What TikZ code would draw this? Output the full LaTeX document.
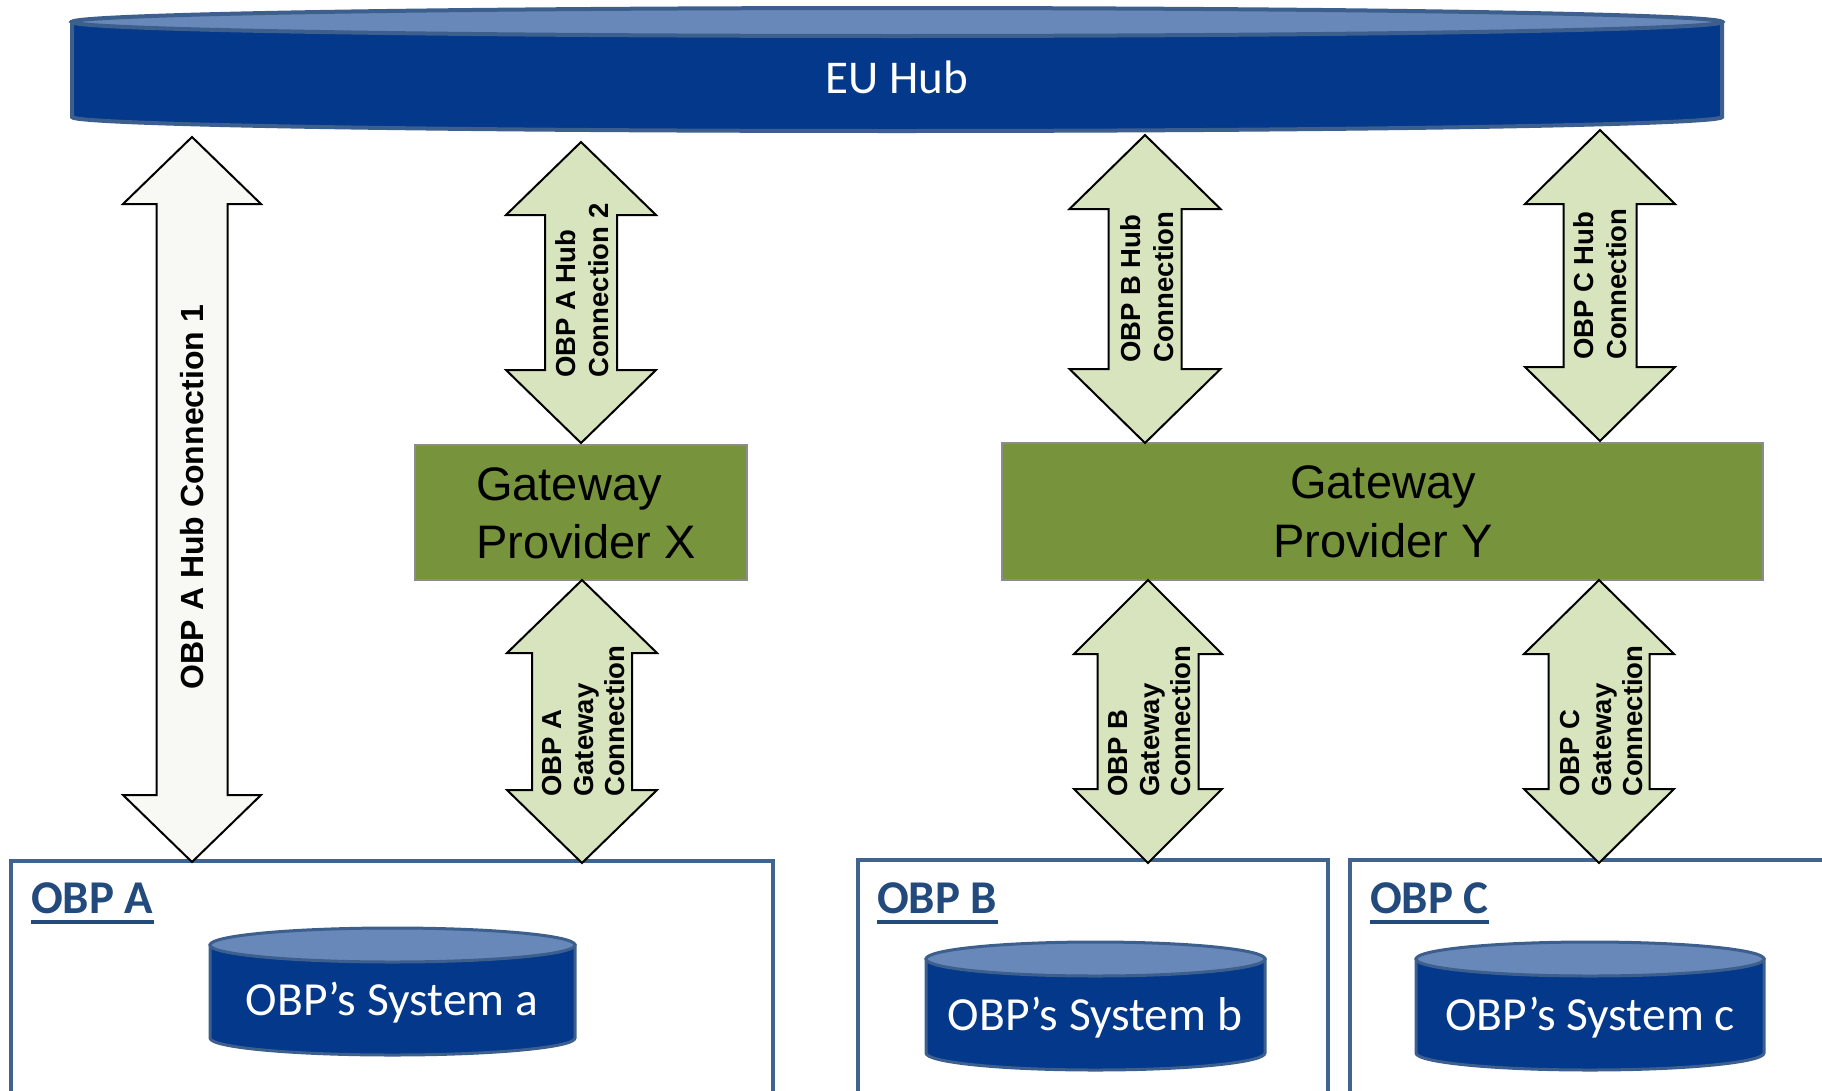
\documentclass[tikz,border=0pt]{standalone}
\usepackage{fontspec}
\newfontfamily\carlito{Carlito}
\newfontfamily\arialf{Liberation Sans}
\definecolor{hubdark}{HTML}{03388A}
\definecolor{hubtop}{HTML}{6788B8}
\definecolor{hubline}{HTML}{3C5F8D}
\definecolor{boxline}{HTML}{41648F}
\definecolor{lblblue}{HTML}{234A7C}
\definecolor{arrgreen}{HTML}{D7E4BD}
\definecolor{arrwhite}{HTML}{F8F8F4}
\definecolor{gwgreen}{HTML}{77933C}
\definecolor{gwline}{HTML}{8C8C8C}
% fat double arrow: style, name, cx, top, bottom, shaft half width, head half width, head length
\newcommand{\fatarrow}[8]{%
  \draw[#1] (#3,#4) -- (#3+#7,#4+#8) -- (#3+#6,#4+#8) -- (#3+#6,#5-#8) -- (#3+#7,#5-#8)
    -- (#3,#5) -- (#3-#7,#5-#8) -- (#3-#6,#5-#8) -- (#3-#6,#4+#8) -- (#3-#7,#4+#8) -- cycle;
  \coordinate (#2-top) at (#3,#4);
  \coordinate (#2-bot) at (#3,#5);
}
% cylinder: left, right, top ellipse centre y, bottom side y, y radius, line width
\newcommand{\cylshape}[6]{%
  \pgfmathsetmacro\cylcx{(#1+#2)/2}%
  \pgfmathsetmacro\cylrx{(#2-#1)/2}%
  \filldraw[fill=hubdark, draw=hubline, line width=#6] (#1,#3) -- (#1,#4)
    .. controls (#1,#4+0.5523*#5) and (\cylcx-0.5523*\cylrx,#4+#5) .. (\cylcx,#4+#5)
    .. controls (\cylcx+0.5523*\cylrx,#4+#5) and (#2,#4+0.5523*#5) .. (#2,#4)
    -- (#2,#3) -- cycle;
  \filldraw[fill=hubtop, draw=hubline, line width=#6] (\cylcx,#3) ellipse [x radius=\cylrx pt, y radius=#5 pt];
}
\tikzset{
  greenarrow/.style={fill=arrgreen, draw=black, line width=2pt, line join=miter},
  whitearrow/.style={fill=arrwhite, draw=black, line width=2pt, line join=miter},
  arrtxt/.style={rotate=90, inner sep=0pt, anchor=west, align=left,
    font=\arialf\bfseries\fontsize{27.5}{33}\selectfont},
  arrtxtg/.style={arrtxt, font=\arialf\bfseries\fontsize{27.5}{31.5}\selectfont},
  gwbox/.style={fill=gwgreen, draw=gwline, line width=1.5pt},
  gwtxt/.style={inner sep=0pt, font=\arialf\fontsize{47}{55}\selectfont},
  obpbox/.style={draw=boxline, line width=3.5pt},
  obplbl/.style={inner sep=0pt, anchor=base west, text=lblblue, font=\carlito\bfseries\fontsize{47}{56}\selectfont},
  systxt/.style={inner sep=0pt, anchor=base, text=white, font=\carlito\fontsize{47.5}{56}\selectfont},
}
\begin{document}
\begin{tikzpicture}[x=1pt, y=-1pt]
\useasboundingbox (0,0) rectangle (1822,1090);
\clip (0,0) rectangle (1822,1090);

% EU Hub
\cylshape{72}{1722}{22}{117}{14}{4pt}
\node[text=white, font=\carlito\fontsize{47}{56}\selectfont] (hub) at (897,77) {EU Hub};

% OBP boxes
\draw[obpbox] (11,1110) -- (11,861) -- (773,861) -- (773,1110);
\draw[obpbox] (858,1110) -- (858,860) -- (1328,860) -- (1328,1110);
\draw[obpbox] (1350,1110) -- (1350,860) -- (1840,860);

\node[obplbl] (obpa) at (31,913) {OBP A};
\draw[lblblue, line width=3.5pt] ([yshift=-9pt]obpa.base west) -- ([yshift=-9pt]obpa.base east);
\node[obplbl] (obpb) at (877,913) {OBP B};
\draw[lblblue, line width=3.5pt] ([yshift=-9pt]obpb.base west) -- ([yshift=-9pt]obpb.base east);
\node[obplbl] (obpc) at (1370,913) {OBP C};
\draw[lblblue, line width=3.5pt] ([yshift=-9pt]obpc.base west) -- ([yshift=-9pt]obpc.base east);

% systems
\cylshape{210}{575}{945}{1038}{17}{3pt}
\node[systxt] (sysa) at (392,1015) {OBP’s System a};
\cylshape{926}{1265}{959}{1053}{17}{3pt}
\node[systxt] (sysb) at (1095,1030) {OBP’s System b};
\cylshape{1416}{1764}{959}{1053}{17}{3pt}
\node[systxt] (sysc) at (1590,1030) {OBP’s System c};

% gateways
\node[gwbox, minimum width=332pt, minimum height=135pt, inner sep=0pt] (gwx) at (581,512.5) {};
\node[gwtxt, anchor=base west] (gwxa) at (476,500) {Gateway};
\node[gwtxt, anchor=base west] (gwxb) at (476,558) {Provider X};
\node[gwbox, minimum width=761pt, minimum height=137pt, inner sep=0pt] (gwy) at (1382.5,511.5) {};
\node[gwtxt, anchor=base] (gwya) at (1383,498) {Gateway};
\node[gwtxt, anchor=base] (gwyb) at (1383,557) {Provider Y};

% arrows
\fatarrow{whitearrow}{a1}{192}{137}{862}{35.5}{69}{67}
\node[rotate=90, inner sep=0pt, font=\arialf\bfseries\fontsize{32}{38}\selectfont] (ta1) at (192,497) {OBP A Hub Connection 1};

\fatarrow{greenarrow}{a2}{581}{142}{443}{36}{75}{73}
\node[arrtxt] (ta2) at (582,378) {OBP A Hub\\Connection 2};

\fatarrow{greenarrow}{a3}{582}{580}{863}{50}{75}{73}
\node[arrtxtg] (ta3) at (584,797) {OBP A\\Gateway\\Connection};

\fatarrow{greenarrow}{b1}{1145}{135}{443}{36.5}{75.5}{74}
\node[arrtxt] (tb1) at (1147,363) {OBP B Hub\\Connection};

\fatarrow{greenarrow}{c1}{1600}{130}{441}{36.5}{75}{74}
\node[arrtxt] (tc1) at (1600,360) {OBP C Hub\\Connection};

\fatarrow{greenarrow}{b2}{1148}{580}{863}{50.5}{74}{74}
\node[arrtxtg] (tb2) at (1150,797) {OBP B\\Gateway\\Connection};

\fatarrow{greenarrow}{c2}{1599}{580}{863}{50.5}{75}{74}
\node[arrtxtg] (tc2) at (1602,797) {OBP C\\Gateway\\Connection};
\end{tikzpicture}
\end{document}
